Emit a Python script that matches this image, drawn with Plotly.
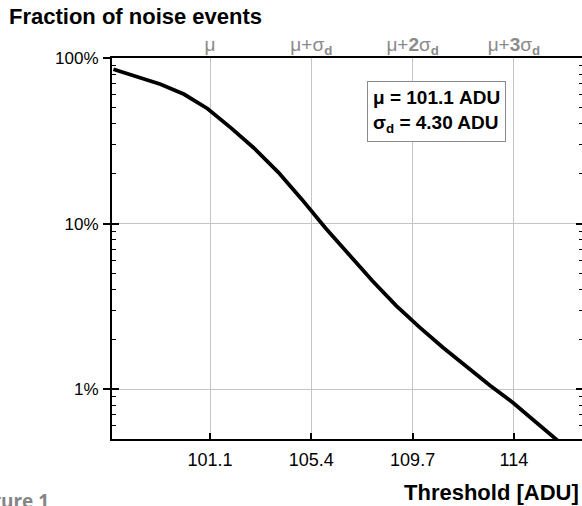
import plotly.graph_objects as go

# ---- data ----
threshold_adu = [97, 98, 99, 100, 101, 102, 103, 104, 105, 106, 107, 108,
                 109, 110, 111, 112, 113, 114, 115, 116]
noise_fraction = [0.855, 0.776, 0.695, 0.604, 0.494, 0.377, 0.283, 0.204,
                  0.140, 0.094, 0.0645, 0.045, 0.0320, 0.0236, 0.0178,
                  0.0136, 0.0105, 0.0082, 0.0062, 0.0047]

x_tick_vals = [101.1, 105.4, 109.7, 114]
x_tick_text = ["101.1", "105.4", "109.7", "114"]
top_tick_text = ["μ", "μ+σ<sub><b>d</b></sub>", "μ+<b>2</b>σ<sub><b>d</b></sub>",
                 "μ+<b>3</b>σ<sub><b>d</b></sub>"]
y_major_vals = [0.01, 0.1, 1]
y_major_text = ["1%", "10%", "100%"]
y_minor_vals = [0.006, 0.007, 0.008, 0.009,
                0.02, 0.03, 0.04, 0.05, 0.06, 0.07, 0.08, 0.09,
                0.2, 0.3, 0.4, 0.5, 0.6, 0.7, 0.8, 0.9]

x_range = [96.94, 116.89]
y_range = [-2.301, 0]

W, H = 582, 506
ml, mr, mt, mb = 112, 0, 58, 67
pw, ph = W - ml - mr, H - mt - mb


def px(xp):
    return (xp - ml) / pw


def py(yp):
    return (H - mb - yp) / ph


FONT = "Liberation Sans, Arial, sans-serif"
GRID = "#c4c4c4"

fig = go.Figure()
fig.add_trace(go.Scatter(x=threshold_adu, y=noise_fraction, mode="lines",
                         line=dict(color="black", width=3.8),
                         showlegend=False, hoverinfo="skip"))
for ax in ["y2", "y3", "y4", "y5"]:
    fig.add_trace(go.Scatter(x=[], y=[], yaxis=ax, showlegend=False))
fig.add_trace(go.Scatter(x=[], y=[], xaxis="x2", showlegend=False))

common_y = dict(type="log", range=y_range, showgrid=False, zeroline=False,
                showticklabels=False, showline=False)

fig.update_layout(
    width=W, height=H,
    margin=dict(l=ml, r=mr, t=mt, b=mb),
    paper_bgcolor="white", plot_bgcolor="white",
    font=dict(family=FONT, color="black"),
    xaxis=dict(range=x_range, tickvals=x_tick_vals, ticktext=x_tick_text,
               ticks="inside", ticklen=6, tickwidth=1.5, tickcolor="black",
               showgrid=True, gridcolor=GRID, gridwidth=1,
               showline=True, linecolor="black", linewidth=2, mirror=True,
               zeroline=False, tickfont=dict(size=18, family=FONT),
               ticklabelstandoff=3),
    xaxis2=dict(range=x_range, overlaying="x", side="top", anchor="y",
                tickvals=x_tick_vals, ticktext=top_tick_text, ticks="",
                showgrid=False, showline=False, zeroline=False,
                tickfont=dict(size=19, color="#8a8a8a", family=FONT),
                ticklabelstandoff=2),
    yaxis=dict(type="log", range=y_range, tickvals=y_major_vals,
               showticklabels=False, ticks="inside", ticklen=7, tickwidth=1.5,
               tickcolor="black", showgrid=True, gridcolor=GRID, gridwidth=1,
               showline=True, linecolor="black", linewidth=2, zeroline=False),
    yaxis2=dict(common_y, overlaying="y", side="left", anchor="x",
                tickvals=y_major_vals, ticktext=y_major_text,
                showticklabels=True, ticks="outside", ticklen=8, tickwidth=1.5,
                tickcolor="black", tickfont=dict(size=17, family=FONT),
                ticklabelstandoff=1),
    yaxis3=dict(common_y, overlaying="y", side="left", anchor="x",
                tickvals=y_minor_vals, ticks="inside", ticklen=4,
                tickwidth=1, tickcolor="black"),
    yaxis4=dict(common_y, overlaying="y", side="right", anchor="x",
                tickvals=y_major_vals, ticks="inside", ticklen=6,
                tickwidth=1.5, tickcolor="black"),
    yaxis5=dict(common_y, overlaying="y", side="right", anchor="x",
                tickvals=y_minor_vals, ticks="inside", ticklen=3,
                tickwidth=1, tickcolor="black"),
)

fig.add_annotation(xref="paper", yref="paper", x=px(7), y=py(2),
                   xanchor="left", yanchor="top", showarrow=False,
                   text="<b>Fraction of noise events</b>",
                   font=dict(size=22, family=FONT, color="black"))
fig.add_annotation(xref="paper", yref="paper", x=px(581), y=py(478),
                   xanchor="right", yanchor="top", showarrow=False,
                   text="<b>Threshold [ADU]</b>",
                   font=dict(size=22, family=FONT, color="black"))
fig.add_annotation(xref="paper", yref="paper", x=px(-28), y=py(486),
                   xanchor="left", yanchor="top", showarrow=False,
                   text="<b>Figure 1</b>",
                   font=dict(size=19, family="Open Sans, sans-serif", color="#858585"))
fig.add_annotation(xref="paper", yref="paper", x=px(367), y=py(81),
                   xanchor="left", yanchor="top", showarrow=False, align="left",
                   text="<b>μ = 101.1 ADU</b><br><b>σ<sub>d</sub> = 4.30 ADU</b>",
                   font=dict(size=19, family=FONT, color="black"),
                   bordercolor="#8a8a8a", borderwidth=1, borderpad=5,
                   bgcolor="white")

fig.write_html("out.html")
